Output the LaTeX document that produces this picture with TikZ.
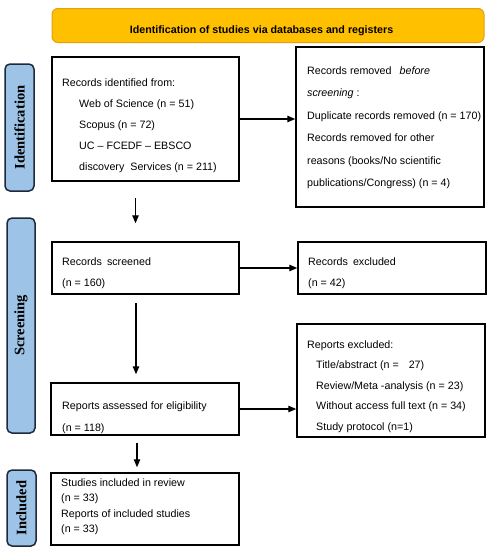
\documentclass[tikz,border=0pt]{standalone}
\usepackage{fontspec}
\setmainfont{Liberation Sans}
\newfontfamily\sidefont{Liberation Serif}
\usetikzlibrary{arrows.meta}
\definecolor{headorange}{RGB}{255,192,0}
\definecolor{headborder}{RGB}{226,160,20}
\definecolor{sideblue}{RGB}{157,195,230}
\definecolor{sideborder}{RGB}{30,42,58}

\begin{document}
\begin{tikzpicture}[
  x=1pt, y=-1pt,
  box/.style={draw, line width=1.5pt, inner sep=0pt},
  headbox/.style={draw=headborder, fill=headorange, line width=1pt, rounded corners=6pt, inner sep=0pt},
  sidebox/.style={draw=sideborder, fill=sideblue, line width=1.5pt, rounded corners=5pt, inner sep=0pt, rotate=90, font=\sidefont\bfseries\fontsize{14.5}{16}\selectfont},
  txt/.style={align=left, inner sep=0pt, anchor=north west, font=\fontsize{10.7}{21}\selectfont},
  arr/.style={-{Triangle[length=8pt,width=6.5pt]}, line width=1.3pt}
]
\useasboundingbox (0,0) rectangle (489,550);

% header
\node[headbox, minimum width=432, minimum height=34] (head) at (268,25.5) {};
\node[font=\bfseries\fontsize{10.7}{12}\selectfont, inner sep=0pt] (headtxt) at (261.5,31) {Identification of studies via databases and registers};

% phase labels
\node[sidebox, minimum width=127, minimum height=29] (idlab) at (19.5,127.5) {Identification};
\node[sidebox, minimum width=215, minimum height=28] (scrlab) at (21,325.5) {Screening};
\node[sidebox, minimum width=76, minimum height=29] (inclab) at (21.5,508) {Included};

% boxes
\node[box, minimum width=187, minimum height=124] (ident) at (145.5,119) {};
\node[box, minimum width=188, minimum height=160] (removed) at (390,127) {};
\node[box, minimum width=187, minimum height=52] (screened) at (145.5,268) {};
\node[box, minimum width=188, minimum height=52] (recexcl) at (392,268) {};
\node[box, minimum width=188, minimum height=113] (repexcl) at (391,380.5) {};
\node[box, minimum width=188, minimum height=52] (assessed) at (145,409) {};
\node[box, minimum width=188, minimum height=72] (included) at (145,509) {};

% texts
\node[txt] (identtxt) at (62,78.5) {Records identified from:\\
  \hspace*{17pt}Web of Science (n = 51)\\
  \hspace*{17pt}Scopus (n = 72)\\
  \hspace*{17pt}UC -- FCEDF -- EBSCO\\
  \hspace*{17pt}discovery\hspace{6pt}Services (n = 211)};
\node[txt, font=\fontsize{10.7}{22.4}\selectfont] (removedtxt) at (307,66.5) {Records removed\hspace{8pt}\textit{before}\\
  \textit{screening} :\\
  Duplicate records removed (n = 170)\\
  Records removed for other\\
  reasons (books/No scientific\\
  publications/Congress) (n = 4)};
\node[txt] (screenedtxt) at (62,257.5) {Records\hspace{5pt}screened\\(n = 160)};
\node[txt] (recexcltxt) at (308,257.5) {Records\hspace{5pt}excluded\\(n = 42)};
\node[txt, font=\fontsize{10.7}{20.5}\selectfont] (repexcltxt) at (307,340.5) {Reports excluded:\\
  \hspace*{9pt}Title/abstract (n =\hspace{10pt}27)\\
  \hspace*{9pt}Review/Meta -analysis (n = 23)\\
  \hspace*{9pt}Without access full text (n = 34)\\
  \hspace*{9pt}Study protocol (n=1)};
\node[txt, font=\fontsize{10.7}{22}\selectfont] (assessedtxt) at (62,401.5) {Reports assessed for eligibility\\(n = 118)};
\node[txt, font=\fontsize{10.7}{15.3}\selectfont] (includedtxt) at (61,478.5) {Studies included in review\\(n = 33)\\Reports of included studies\\(n = 33)};

% arrows
\draw[arr] (ident.east) -- (ident.east -| removed.west);
\draw[arr, shorten <=16pt, shorten >=18pt] ([xshift=-10]ident.south) -- ([xshift=-10]ident.south |- screened.north);
\draw[arr] (screened.east) -- (recexcl.west);
\draw[arr, shorten <=8pt, shorten >=8pt] ([xshift=-9.5]screened.south) -- ([xshift=-9.5]screened.south |- assessed.north);
\draw[arr] (assessed.east) -- (assessed.east -| repexcl.west);
\draw[arr, shorten <=7pt, shorten >=5pt] ([xshift=-8]assessed.south) -- ([xshift=-8]assessed.south |- included.north);
\end{tikzpicture}
\end{document}
